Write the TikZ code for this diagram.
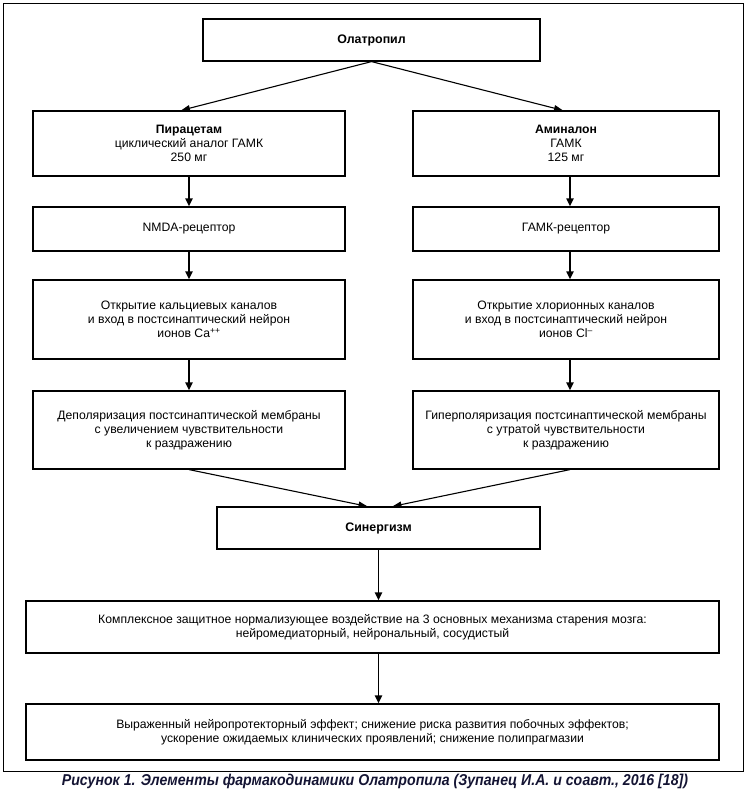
\documentclass[tikz,border=0pt]{standalone}
\usepackage{fontspec}
\setmainfont{Liberation Sans}
\newfontfamily\capfont[FakeStretch=0.9]{Liberation Sans}
\usetikzlibrary{arrows.meta}
\definecolor{capcol}{rgb}{0.08,0.08,0.2}
\begin{document}
\begin{tikzpicture}[x=1pt,y=-1pt,
  box/.style={draw=black,line width=1.2pt,inner sep=0pt,align=center,
    font=\fontsize{12.2}{14}\selectfont},
  title/.style={font=\bfseries\fontsize{12.4}{14}\selectfont},
  varr/.style={line width=1.9pt,-{Triangle[length=8pt,width=7pt]}},
  darr/.style={line width=1.1pt,-{Triangle[length=9pt,width=6pt]}}]
\useasboundingbox (0,0) rectangle (749,792);
\draw[line width=1pt] (3,4) rectangle (743,771);
\node[box,title,minimum width=337pt,minimum height=42pt] (top) at (371.5,40) {Олатропил};
\node[box,minimum width=312pt,minimum height=65pt] (pir) at (189,143.5) {\textbf{Пирацетам}\\циклический аналог ГАМК\\250 мг};
\node[box,minimum width=306pt,minimum height=65pt] (amin) at (566,143.5) {\textbf{Аминалон}\\ГАМК\\125 мг};
\node[box,minimum width=312pt,minimum height=44pt] (nmda) at (189,229) {NMDA-рецептор};
\node[box,minimum width=306pt,minimum height=44pt] (gaba) at (566,229) {ГАМК-рецептор};
\node[box,minimum width=312pt,minimum height=79pt] (ca) at (189,319.5) {Открытие кальциевых каналов\\и вход в постсинаптический нейрон\\ионов Ca\textsuperscript{++}};
\node[box,minimum width=306pt,minimum height=79pt] (cl) at (566,319.5) {Открытие хлорионных каналов\\и вход в постсинаптический нейрон\\ионов Cl\textsuperscript{–}};
\node[box,minimum width=312pt,minimum height=78pt] (dep) at (189,430) {Деполяризация постсинаптической мембраны\\с увеличением чувствительности\\к раздражению};
\node[box,minimum width=306pt,minimum height=78pt] (hyp) at (566,430) {Гиперполяризация постсинаптической мембраны\\с утратой чувствительности\\к раздражению};
\node[box,title,minimum width=323pt,minimum height=42pt] (syn) at (378.5,528) {Синергизм};
\node[box,minimum width=693pt,minimum height=52pt] (comp) at (372.5,627) {Комплексное защитное нормализующее воздействие на 3 основных механизма старения мозга:\\нейромедиаторный, нейрональный, сосудистый};
\node[box,minimum width=693pt,minimum height=56pt] (fin) at (372.5,732) {Выраженный нейропротекторный эффект; снижение риска развития побочных эффектов;\\ускорение ожидаемых клинических проявлений; снижение полипрагмазии};
\node[inner sep=0pt,text=capcol,font=\capfont\bfseries\itshape\fontsize{15.7}{17}\selectfont] (cap) at (375,781) {Рисунок 1. Элементы фармакодинамики Олатропила (Зупанец И.А. и соавт., 2016 [18])};
\draw[darr] (top.south) -- ([xshift=-8pt]pir.north);
\draw[darr] (top.south) -- ([xshift=-3pt]amin.north);
\draw[varr] (pir.south) -- (nmda.north);
\draw[varr] (nmda.south) -- (ca.north);
\draw[varr] (ca.south) -- (dep.north);
\draw[varr] ([xshift=4pt]amin.south) -- ([xshift=4pt]gaba.north);
\draw[varr] ([xshift=4pt]gaba.south) -- ([xshift=4pt]cl.north);
\draw[varr] ([xshift=4pt]cl.south) -- ([xshift=4pt]hyp.north);
\draw[darr] (dep.south) -- ([xshift=-11pt]syn.north);
\draw[darr] ([xshift=4pt]hyp.south) -- ([xshift=14pt]syn.north);
\draw[varr] (syn.south) -- (syn.south |- comp.north);
\draw[varr] (syn.south |- comp.south) -- (syn.south |- fin.north);
\end{tikzpicture}
\end{document}
